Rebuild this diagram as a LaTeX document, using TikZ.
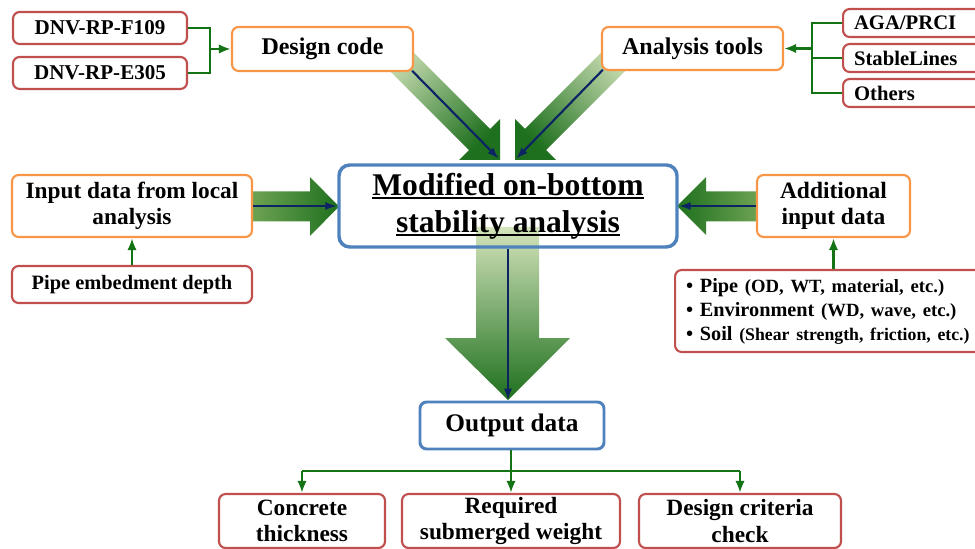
\documentclass[tikz,border=0pt]{standalone}
\usepackage{fontspec}
\setmainfont{Liberation Serif}
\usetikzlibrary{arrows.meta}
\definecolor{boxred}{RGB}{192,80,77}
\definecolor{boxorange}{RGB}{247,150,70}
\definecolor{boxblue}{RGB}{79,129,189}
\definecolor{conngreen}{RGB}{20,115,20}
\definecolor{navyline}{RGB}{12,35,100}
\definecolor{lightgr}{RGB}{212,228,188}
\definecolor{midgr}{RGB}{120,170,90}
\definecolor{darkgr}{RGB}{30,112,30}
\newcommand\fsz[2]{\fontsize{#1}{#2}\selectfont\bfseries}
\newcommand\myul[1]{\setbox0\hbox{#1}\rlap{\rule[-2.8pt]{\wd0}{1.2pt}}\box0}
\def\PX{0.75pt}
\tikzset{
  basebox/.style={rounded corners=5pt, fill=white, align=center, inner sep=0pt, text=black},
  redbox/.style={basebox, draw=boxred, line width=1.6pt},
  orangebox/.style={basebox, draw=boxorange, line width=1.6pt},
  bluebox/.style={basebox, draw=boxblue, line width=2.2pt},
  gline/.style={draw=conngreen, line width=1.9pt},
  garrow/.style={gline, -{Latex[length=9pt,width=7pt]}},
  navyarrow/.style={draw=navyline, line width=1.6pt, -{Latex[length=9pt,width=6pt]}},
}
\begin{document}
\begin{tikzpicture}[x=0.75pt,y=-0.75pt]
\useasboundingbox (0,0) rectangle (975,549);

% big shaded arrows
\shade[top color=lightgr, bottom color=darkgr, shading angle=45]
  (395.6,34.4) -- (490.1,128.9) -- (500,119) -- (500,160) -- (459,160) -- (468.9,150.1) -- (374.4,55.6) -- cycle;
\shade[top color=lightgr, bottom color=darkgr, shading angle=-45]
  (619.4,34.4) -- (524.9,128.9) -- (515,119) -- (515,160) -- (556,160) -- (546.1,150.1) -- (640.6,55.6) -- cycle;
\shade[left color=midgr, right color=darkgr]
  (240,191.5) -- (310,191.5) -- (310,177) -- (339,206.5) -- (310,236) -- (310,221.5) -- (240,221.5) -- cycle;
\shade[left color=darkgr, right color=midgr]
  (770,191.5) -- (706,191.5) -- (706,177) -- (677,206) -- (706,235) -- (706,221.5) -- (770,221.5) -- cycle;
\shade[top color=lightgr, bottom color=darkgr]
  (476,227) -- (539,227) -- (539,338) -- (570,338) -- (508,400) -- (445,338) -- (476,338) -- cycle;

% nodes
\node[redbox, minimum width=174*\PX, minimum height=32*\PX, font=\fsz{15.8}{18}] (f109) at (100,28) {DNV-RP-F109};
\node[redbox, minimum width=174*\PX, minimum height=32*\PX, font=\fsz{15.8}{18}] (e305) at (100,73) {DNV-RP-E305};
\node[orangebox, minimum width=181*\PX, minimum height=44*\PX, font=\fsz{18}{20}] (dc) at (322.5,49) {Design code};
\node[orangebox, minimum width=181*\PX, minimum height=43*\PX, font=\fsz{18}{20}] (at) at (692.5,48.5) {Analysis tools};

\node[redbox, anchor=west, minimum height=28*\PX, text width=130*\PX, inner xsep=11*\PX, align=left, font=\fsz{15.5}{18}] (aga) at (842,23) {AGA/PRCI};
\node[redbox, anchor=west, minimum height=28*\PX, text width=130*\PX, inner xsep=11*\PX, align=left, font=\fsz{15.5}{18}] (sl) at (842,58) {StableLines};
\node[redbox, anchor=west, minimum height=28*\PX, text width=130*\PX, inner xsep=11*\PX, align=left, font=\fsz{15.5}{18}] (oth) at (842,93) {Others};

\node[orangebox, minimum width=240*\PX, minimum height=62*\PX, font=\fsz{17.5}{19.5}] (in) at (132,206) {Input data from local\\analysis};
\node[redbox, minimum width=240*\PX, minimum height=37*\PX, font=\fsz{15.3}{18}] (ped) at (132,284.5) {Pipe embedment depth};

\node[orangebox, minimum width=153*\PX, minimum height=62*\PX, font=\fsz{17.6}{19.5}] (add) at (833.5,206) {Additional\\input data};
\node[redbox, anchor=west, minimum height=82*\PX, text width=312*\PX, inner xsep=11*\PX, align=left, font=\fsz{15.2}{18}] (bul) at (674,311)
  {\mbox{\textbullet\ Pipe {\fontsize{14}{18}\selectfont (OD, WT, material, etc.)}}\\
   \mbox{\textbullet\ Environment {\fontsize{14}{18}\selectfont (WD, wave, etc.)}}\\
   \mbox{\textbullet\ Soil {\fontsize{13.3}{18}\selectfont (Shear strength, friction, etc.)}}};

\node[bluebox, fill=none, line width=2.6pt, rounded corners=8pt, minimum width=338*\PX, minimum height=82*\PX, font=\fsz{23.7}{27.8}] (main) at (508,206)
  {\myul{Modified on-bottom}\\\myul{stability analysis}};

\node[bluebox, minimum width=184*\PX, minimum height=47*\PX, font=\fsz{19}{21}] (out) at (512,425.5) {Output data};

\node[redbox, minimum width=166*\PX, minimum height=54*\PX, font=\fsz{17.5}{20}] (ct) at (302,521) {Concrete\\thickness};
\node[redbox, minimum width=218*\PX, minimum height=54*\PX, font=\fsz{17.5}{20}] (rq) at (511,521) {Required\\submerged weight};
\node[redbox, minimum width=202*\PX, minimum height=54*\PX, font=\fsz{17.5}{20}] (dcc) at (740,521) {Design criteria\\check};

% navy arrows
\coordinate (tipL) at (499,159);
\coordinate (tipR) at (516,159);
\draw[navyarrow] ([xshift=-1.5pt,yshift=1pt]dc.south east) -- (tipL);
\draw[navyarrow] ([xshift=1.5pt,yshift=1pt]at.south west) -- (tipR);
\draw[navyarrow] (in.east) -- (main.west);
\draw[navyarrow] (add.west) -- (main.east);
\draw[navyarrow] (main.south) -- (main.south |- out.north);

% green connectors
\coordinate (jl) at (210,49);
\draw[gline] (f109.east) -| (jl) |- (e305.east);
\draw[garrow] (jl) -- (dc.west);

\coordinate (jr) at (812,48.5);
\draw[gline] (aga.west) -| (jr) |- (oth.west);
\draw[gline] (sl.west) -- (sl.west -| jr);
\draw[garrow] (jr) -- (at.east);

\draw[garrow] (ped.north) -- (in.south);
\draw[garrow] (add.south |- bul.north) -- (add.south);

\coordinate (jb) at (511,471);
\draw[gline] (out.south -| jb) -- (jb);
\draw[gline] (ct.north |- jb) -- (dcc.north |- jb);
\draw[garrow] (ct.north |- jb) -- (ct.north);
\draw[garrow] (jb) -- (rq.north);
\draw[garrow] (dcc.north |- jb) -- (dcc.north);
\end{tikzpicture}
\end{document}
